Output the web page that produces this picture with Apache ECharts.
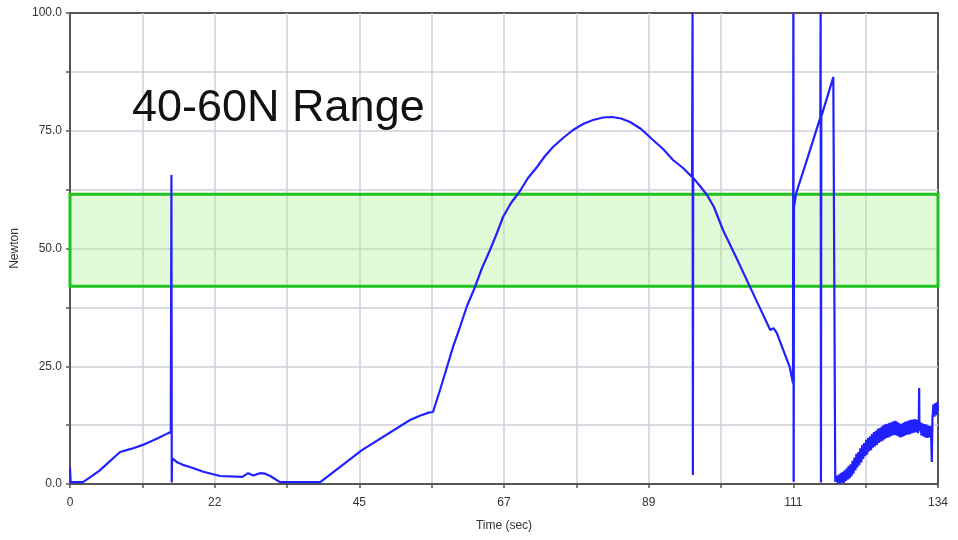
<!DOCTYPE html>
<html>
<head>
<meta charset="utf-8">
<title>40-60N Range</title>
<script src="https://cdn.jsdelivr.net/npm/echarts@6/dist/echarts.min.js"></script>
<style>
  html, body { margin: 0; padding: 0; background: #fff; }
  #chart { width: 958px; height: 540px; }
</style>
</head>
<body>
<div id="chart"></div>
<script>
// time (s) and force (N)
// first part: ramp, spike, decay, rest, ramp
const timeA = [
  0, 0.1, 2.0, 4.5, 7.7, 9.5, 11.2, 13.5, 15.1, 15.5,
  15.6, 15.65, 15.7, 16.5, 17.5, 18.9, 20.5, 23.1, 26.5, 27.4,
  28.2, 29.2, 30.0, 30.8, 32.3, 38.5, 44.9, 52.3, 53.8, 55.3
];
const forceA = [
  3.5, 0.4, 0.4, 2.8, 6.8, 7.5, 8.3, 9.7, 10.8, 11.0,
  65.6, 0.3, 5.5, 4.6, 4.0, 3.4, 2.6, 1.7, 1.5, 2.3,
  1.8, 2.3, 2.2, 1.7, 0.4, 0.4, 7.2, 13.6, 14.5, 15.2
];
// arch and the spikes on the right
const timeB = [
  55.83, 56.91, 57.98, 58.91, 59.98, 61.06, 62.29, 63.37, 64.60, 65.67,
  66.60, 67.83, 69.21, 70.44, 71.83, 73.06, 74.29, 75.83, 77.37, 78.91,
  80.45, 81.98, 83.37, 84.75, 86.14, 87.83, 89.67, 91.21, 92.75, 94.29,
  95.67, 95.75, 95.8, 95.85, 96.89, 97.97, 99.04, 100.43, 102.58, 104.6,
  106.1, 107.7, 108.2, 108.7, 110.7, 111.2, 111.25, 111.3, 111.35, 111.7,
  113.5, 115.4, 115.45, 115.5, 115.55, 117.4, 117.6, 117.7
];
const forceB = [
  15.29, 19.96, 24.84, 29.09, 33.33, 37.79, 41.83, 45.86, 49.68, 53.29,
  56.69, 59.66, 62.21, 64.97, 67.30, 69.64, 71.55, 73.46, 75.16, 76.43,
  77.28, 77.81, 77.92, 77.60, 76.86, 75.37, 73.04, 71.13, 68.79, 67.09,
  65.18, 100, 1.9, 65.0, 63.27, 61.36, 58.81, 53.93, 47.77, 41.8,
  37.4, 32.7, 33.1, 32.1, 24.8, 21.4, 100, 0.5, 58.8, 61.8,
  69.5, 77.8, 100, 0.3, 78.0, 86.4, 86.0, 0.5
];
// noisy tail
const timeC = [
  117.8, 117.95, 118.1, 118.25, 118.4, 118.55, 118.7, 118.85, 119.0, 119.15,
  119.3, 119.45, 119.6, 119.75, 119.9, 120.05, 120.2, 120.35, 120.5, 120.65,
  120.8, 120.95, 121.1, 121.25, 121.4, 121.55, 121.7, 121.85, 122.0, 122.15,
  122.3, 122.45, 122.6, 122.75, 122.9, 123.05, 123.2, 123.35, 123.5, 123.65,
  123.8, 123.95, 124.1, 124.25, 124.4, 124.55, 124.7, 124.85, 125.0, 125.15,
  125.3, 125.45, 125.6, 125.75, 125.9, 126.05, 126.2, 126.35, 126.5, 126.65,
  126.8, 126.95, 127.1, 127.25, 127.4, 127.55, 127.7, 127.85, 128.0, 128.15,
  128.3, 128.45, 128.6, 128.75, 128.9, 129.05, 129.2, 129.35, 129.5, 129.65,
  129.8, 129.95, 130.1, 130.25, 130.4, 130.55, 130.6, 130.65, 130.8, 130.95,
  131.1, 131.25, 131.4, 131.55, 131.7, 131.85, 132.0, 132.15, 132.3, 132.45,
  132.55, 132.65, 132.8, 132.95, 133.1, 133.25, 133.4, 133.5
];
const forceC = [
  0.3, 1.8, 0.1, 2.0, 0.2, 2.3, 0.3, 2.6, 0.2, 2.9,
  0.6, 3.3, 0.9, 3.8, 1.2, 4.2, 1.6, 4.9, 2.2, 5.6,
  2.9, 6.4, 3.5, 6.8, 4.0, 7.6, 4.6, 8.3, 5.3, 8.7,
  5.9, 9.4, 6.3, 9.8, 6.9, 10.1, 7.2, 10.6, 7.7, 11.0,
  8.0, 11.3, 8.3, 11.7, 8.7, 11.9, 9.0, 12.2, 9.2, 12.5,
  9.5, 12.7, 9.8, 12.8, 9.9, 13.0, 10.1, 13.1, 10.3, 13.3,
  10.4, 13.4, 10.3, 13.2, 10.1, 12.9, 9.9, 12.8, 10.0, 13.0,
  10.2, 13.2, 10.4, 13.3, 10.5, 13.5, 10.6, 13.6, 10.8, 13.7,
  10.9, 13.8, 11.0, 13.6, 10.8, 13.4, 20.4, 11.2, 13.1, 10.3,
  12.9, 10.1, 12.7, 9.9, 12.6, 9.8, 12.4, 9.9, 12.3, 10.0,
  4.7, 14.0, 16.9, 14.3, 17.2, 14.6, 17.4, 15.6
];

// target band
const bandLow = 42;
const bandHigh = 61.5;
const bandLabel = '40-60N Range';

// tick labels (every second grid line carries a label)
const xTickLabels = ['0', '22', '45', '67', '89', '111', '134'];
const yTickLabels = ['0.0', '25.0', '50.0', '75.0', '100.0'];

const xMax = 133.5;
const xStep = xMax / 12;
const yStep = 12.5;

const font = 'Liberation Sans, Arial, sans-serif';

const chart = echarts.init(document.getElementById('chart'));

const timeSec = timeA.concat(timeB, timeC);
const forceN = forceA.concat(forceB, forceC);
const points = timeSec.map((t, i) => [t, forceN[i]]);

const option = {
  animation: false,
  backgroundColor: '#fff',
  title: {
    text: bandLabel,
    left: 127,
    top: 81,
    textStyle: { fontFamily: font, fontSize: 45, fontWeight: 'normal', color: '#111' }
  },
  grid: {
    left: 70, right: 20, top: 13, bottom: 56,
    show: true,
    borderColor: '#555',
    borderWidth: 2
  },
  xAxis: {
    type: 'value',
    min: 0,
    max: xMax,
    interval: xStep,
    name: 'Time (sec)',
    nameLocation: 'middle',
    nameGap: 36,
    nameTextStyle: { fontFamily: font, fontSize: 12, color: '#333' },
    axisLine: { lineStyle: { color: '#555', width: 2 } },
    axisTick: { length: 4, lineStyle: { color: '#555', width: 1.5 } },
    axisLabel: {
      margin: 13,
      fontFamily: font,
      fontSize: 12,
      color: '#333',
      formatter: function (v) {
        const idx = Math.round(v / xStep);
        return idx % 2 === 0 ? xTickLabels[idx / 2] : '';
      }
    },
    splitLine: { showMinLine: false, showMaxLine: false, lineStyle: { color: '#cfcfdb', width: 1.5 } }
  },
  yAxis: {
    type: 'value',
    min: 0,
    max: 100,
    interval: yStep,
    name: 'Newton',
    nameLocation: 'middle',
    nameGap: 45,
    nameRotate: 90,
    nameTextStyle: { fontFamily: font, fontSize: 12, color: '#333' },
    axisLine: { show: true, lineStyle: { color: '#555', width: 2 } },
    axisTick: { show: true, length: 4, lineStyle: { color: '#555', width: 1.5 } },
    axisLabel: {
      margin: 8,
      fontFamily: font,
      fontSize: 12,
      color: '#333',
      formatter: function (v) {
        const idx = Math.round(v / yStep);
        return idx % 2 === 0 ? yTickLabels[idx / 2] : '';
      }
    },
    splitLine: { showMinLine: false, showMaxLine: false, lineStyle: { color: '#cfcfdb', width: 1.5 } }
  },
  series: [
    {
      type: 'line',
      data: points,
      symbol: 'none',
      clip: true,
      z: 2,
      lineStyle: { color: '#2121ff', width: 2.2 }
    },
    {
      // green band sits above the curve, semi-transparent
      type: 'line',
      data: [],
      z: 5,
      markArea: {
        silent: true,
        itemStyle: {
          color: 'rgba(170,240,140,0.35)',
          borderColor: '#1ec31e',
          borderWidth: 3
        },
        data: [[{ yAxis: bandLow }, { yAxis: bandHigh }]]
      }
    }
  ]
};

chart.setOption(option);
</script>
</body>
</html>
